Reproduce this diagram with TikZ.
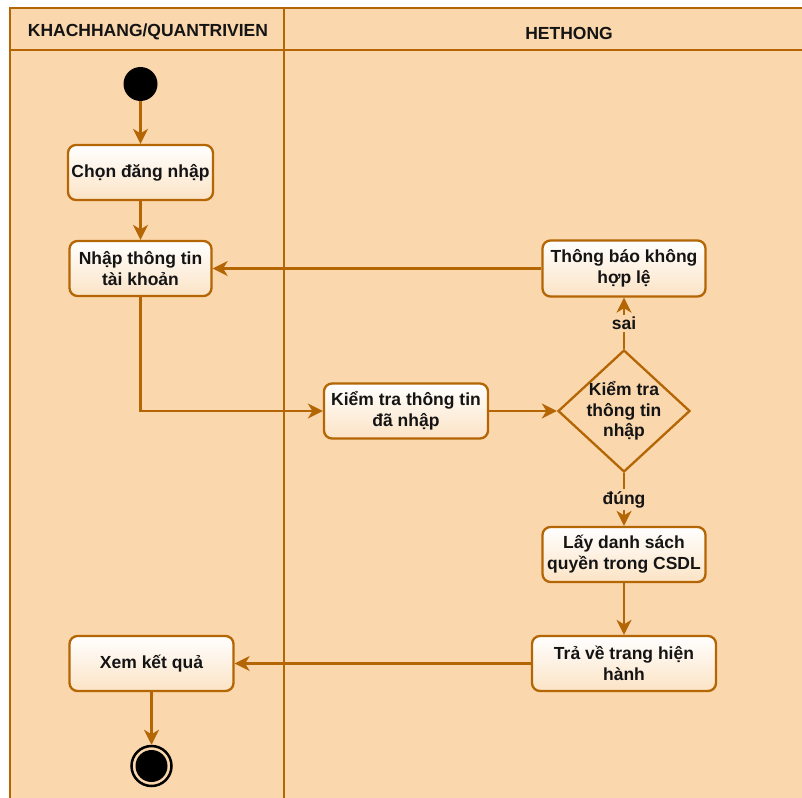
\documentclass[tikz,border=0pt]{standalone}
\usepackage{fontspec}
\setmainfont{Liberation Sans}
\usetikzlibrary{arrows.meta,shapes.geometric}
\definecolor{lanefill}{HTML}{FAD7AC}
\definecolor{laneline}{HTML}{B46504}
\definecolor{inktext}{HTML}{141414}

\begin{document}
\begin{tikzpicture}[x=1pt,y=-1pt,
  font=\fontsize{17.5}{21}\selectfont\bfseries,
  every node/.style={text=inktext},
  lane/.style={draw=laneline,line width=2.3pt},
  action/.style={draw=laneline,line width=2.3pt,rounded corners=8pt,
    top color=white,bottom color=lanefill!70!white,
    align=center,inner sep=0pt},
  decision/.style={diamond,draw=laneline,line width=2.3pt,inner sep=0pt},
  flow/.style={draw=laneline,line width=2.3pt,
    -{Stealth[length=15pt,width=15pt,inset=4.5pt]}},
  guard/.style={fill=lanefill,inner sep=2pt},
  initial/.style={circle,fill=black,inner sep=0pt,minimum size=34pt},
  final/.style={circle,draw=black,line width=2.5pt,fill=lanefill,
    inner sep=0pt,minimum size=40pt},
  finaldot/.style={circle,fill=black,inner sep=0pt,minimum size=32pt}
]
\useasboundingbox (0,0) rectangle (802,797);
\clip (0,0) rectangle (802,797);

% swimlane frame
\fill[lanefill] (10,8) rectangle (840,840);
\draw[lane] (10,840) -- (10,8) -- (840,8);
\draw[lane] (10,50) -- (840,50);
\draw[lane] (284,8) -- (284,840);
\node (laneA) at (148,32) {KHACHHANG/QUANTRIVIEN};
\node (laneB) at (569,33) {HETHONG};

% activities
\node[initial] (start) at (140.5,84) {};
\node[action,minimum width=145pt,minimum height=55pt] (choose) at (140.5,172.5) {Chọn đăng nhập};
\node[action,minimum width=142pt,minimum height=55pt] (enter) at (140.5,268.5) {Nhập thông tin\\tài khoản};
\node[action,minimum width=163pt,minimum height=56pt] (invalid) at (624,268.5) {Thông báo không\\hợp lệ};
\node[action,minimum width=164pt,minimum height=55pt] (check) at (406,411) {Kiểm tra thông tin\\đã nhập};
\node[decision,minimum width=132pt,minimum height=122pt] (decide) at (624,411) {};
\node[align=center,font=\fontsize{17.5}{20.5}\selectfont\bfseries] (decidetext) at (624,411) {Kiểm tra\\thông tin\\nhập};
\node[action,minimum width=163pt,minimum height=55pt] (fetch) at (624,554.5) {Lấy danh sách\\quyền trong CSDL};
\node[action,minimum width=184pt,minimum height=55pt] (back) at (624,663.5) {Trả về trang hiện\\hành};
\node[action,minimum width=164pt,minimum height=55pt] (view) at (151.5,663.5) {Xem kết quả};
\node[final] (finish) at (151.5,766) {};
\node[finaldot] (finishdot) at (151.5,766) {};

% control flow
\draw[flow] (start) -- (choose);
\draw[flow] (choose) -- (enter);
\draw[flow] (enter.south) |- (check.west);
\draw[flow] (check.east) -- (decide.west);
\draw[flow] (decide.north) -- node[guard] (sai) {sai} (invalid.south);
\draw[flow] (invalid.west) -- (enter.east);
\draw[flow] (decide.south) -- node[guard] (dung) {đúng} (fetch.north);
\draw[flow] (fetch) -- (back);
\draw[flow] (back.west) -- (view.east);
\draw[flow] (view) -- (finish);
\end{tikzpicture}
\end{document}
